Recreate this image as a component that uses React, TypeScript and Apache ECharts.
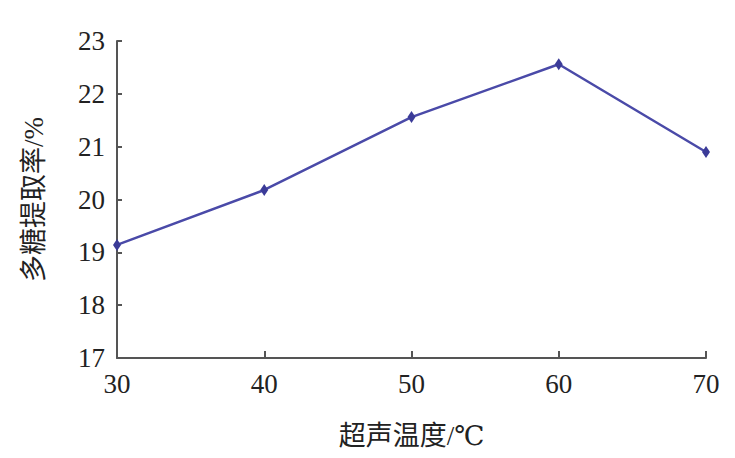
import React, { useEffect, useRef } from "react";
import * as echarts from "echarts";

const temps = [30, 40, 50, 60, 70];
const yields = [19.14, 20.18, 21.56, 22.56, 20.9];
const xTicks = [30, 40, 50, 60, 70];
const yRange = [17, 23];

const FONT = '"Liberation Serif", "DejaVu Serif", "Noto Sans CJK SC"';

export default function App() {
  const ref = useRef<HTMLDivElement>(null);
  useEffect(() => {
    if (!ref.current) return;
    const chart = echarts.init(ref.current, undefined, { renderer: "svg" });
    chart.setOption({
      animation: false,
      backgroundColor: "#ffffff",
      textStyle: { fontFamily: FONT },
      grid: { left: 117, right: 29, top: 41, bottom: 100 },
      xAxis: {
        type: "value",
        min: xTicks[0],
        max: xTicks[xTicks.length - 1],
        interval: 10,
        name: "超声温度/℃",
        nameLocation: "middle",
        nameGap: 64,
        nameTextStyle: { fontFamily: FONT, fontSize: 27, color: "#222" },
        axisLine: { lineStyle: { color: "#555", width: 2 } },
        axisTick: { inside: true, length: 7, lineStyle: { color: "#555", width: 2 } },
        axisLabel: { fontFamily: FONT, fontSize: 27, color: "#222", margin: 12 },
        splitLine: { show: false },
      },
      yAxis: {
        type: "value",
        min: yRange[0],
        max: yRange[1],
        interval: 1,
        name: "多糖提取率/%",
        nameLocation: "middle",
        nameGap: 70,
        nameTextStyle: { fontFamily: FONT, fontSize: 27, color: "#222" },
        axisLine: { show: true, lineStyle: { color: "#555", width: 2 } },
        axisTick: { show: true, inside: true, length: 5, lineStyle: { color: "#555", width: 2 } },
        axisLabel: { fontFamily: FONT, fontSize: 27, color: "#222", margin: 12 },
        splitLine: { show: false },
      },
      series: [
        {
          type: "line",
          data: temps.map((t, i) => [t, yields[i]]),
          symbol: "diamond",
          symbolSize: [8, 12],
          itemStyle: { color: "#3b3b98" },
          lineStyle: { color: "#4a4aa8", width: 2.5 },
        },
      ],
    });
    return () => chart.dispose();
  }, []);
  return <div ref={ref} style={{ width: 735, height: 458, position: "absolute", left: 0, top: 0 }} />;
}
